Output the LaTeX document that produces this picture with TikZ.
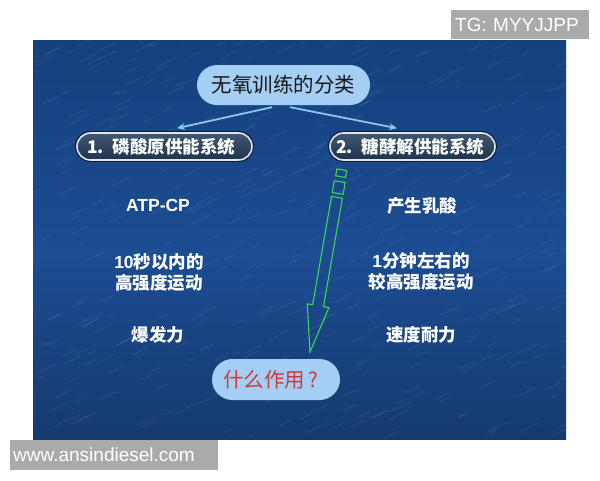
\documentclass[tikz,border=0pt]{standalone}
\usepackage{fontspec}
\setmainfont{Liberation Sans}
\newfontfamily\cjk{Noto Sans CJK SC}
\usetikzlibrary{arrows.meta,calc}
\definecolor{bgA}{RGB}{5,34,62}
\definecolor{bgB}{RGB}{20,62,122}
\definecolor{bgC}{RGB}{28,76,146}
\definecolor{bgD}{RGB}{20,56,106}
\definecolor{bgE}{RGB}{9,34,64}
\definecolor{pillblue}{RGB}{164,206,244}
\definecolor{boxtop}{RGB}{66,88,114}
\definecolor{boxbot}{RGB}{30,50,76}
\definecolor{boxline}{RGB}{222,232,242}
\definecolor{arrowblue}{RGB}{140,196,236}
\definecolor{arrowgreen}{RGB}{60,214,80}
\definecolor{askred}{RGB}{204,58,58}
\definecolor{wmgray}{RGB}{170,170,170}
\pgfdeclareverticalshading{slidebg}{100bp}{color(0bp)=(bgA); color(22bp)=(bgD); color(48bp)=(bgC); color(80bp)=(bgB); color(100bp)=(bgE)}
\tikzset{
  titlepill/.style={fill=pillblue, rounded corners=20pt, minimum width=173pt, minimum height=40pt, inner sep=0pt,
    font=\cjk\fontsize{20.5}{22}\selectfont, text=black!90},
  askpill/.style={fill=pillblue, rounded corners=20.5pt, minimum height=41pt, inner ysep=0pt, inner xsep=11pt,
    text width=106pt, align=left, font=\cjk\fontsize{20.5}{22}\selectfont, text=askred},
  sysbox/.style={rounded corners=13.5pt, draw=boxline, line width=1.6pt, top color=boxtop, bottom color=boxbot,
    minimum height=27pt, inner ysep=0pt, align=left, text=white,
    font=\cjk\bfseries\fontsize{17.5}{20}\selectfont,
    preaction={draw=black, line width=3.8pt, draw opacity=0.6}},
  coltext/.style={text=white, font=\bfseries\fontsize{17.5}{21}\selectfont, align=center, inner sep=0pt},
  linkarrow/.style={draw=arrowblue, line width=1.8pt, -{Stealth[length=8pt,width=7pt]}},
  wmbox/.style={fill=wmgray, text=white, font=\fontsize{19}{22}\selectfont, inner ysep=0pt, align=left},
  hollowarrow/.style={draw=arrowgreen, line width=1.1pt, line join=miter},
  grain/.style={white, draw opacity=0.06, line width=1.3pt, line cap=round},
}
\begin{document}
\begin{tikzpicture}[x=1pt,y=-1pt]
\useasboundingbox (0,0) rectangle (600,480);
\fill[white] (0,0) rectangle (600,480);
% slide background
\shade[shading=slidebg] (33,40) rectangle (566,439);
\begin{scope}
  \clip (33,40) rectangle (566,439);
  \pgfmathsetseed{42}
  \foreach \i in {1,...,420}{
    \pgfmathsetmacro\px{33+533*rnd}
    \pgfmathsetmacro\py{40+399*rnd}
    \pgfmathsetmacro\len{5+14*rnd}
    \draw[grain] (\px,\py) -- ++(\len,-0.5*\len);
  }
\end{scope}
% watermarks
\node[wmbox, anchor=north west, minimum height=29pt, text width=130pt, inner xsep=4pt] (tg) at (451,10) {TG: MYYJJPP};
\node[wmbox, anchor=north west, minimum height=30pt, text width=202pt, inner xsep=3pt] (web) at (10,440) {www.ansindiesel.com};
% title
\node[titlepill] (title) at (283.5,85) {无氧训练的分类};
% system boxes
\node[sysbox, text width=155pt, inner xsep=10pt] (lbox) at (164.5,146.5) {1. 磷酸原供能系统};
\node[sysbox, text width=153pt, inner xsep=6pt] (rbox) at (412.5,146.5) {2. 糖酵解供能系统};
% link arrows
\draw[linkarrow] ([xshift=-11.5pt,yshift=-2pt]title.south) -- ([xshift=12.5pt,yshift=4pt]lbox.north);
\draw[linkarrow] ([xshift=6.5pt,yshift=-2pt]title.south) -- ([xshift=-15.5pt,yshift=4pt]rbox.north);
% column texts
\node[coltext] (atp) at (158,205) {ATP-CP};
\node[coltext] (ten) at (159,272) {10{\cjk 秒以内的}\\{\cjk 高强度运动}};
\node[coltext] (bao) at (158,335) {\cjk 爆发力};
\node[coltext] (lac) at (422,206) {\cjk 产生乳酸};
\node[coltext] (one) at (421,271) {1{\cjk 分钟左右的}\\{\cjk 较高强度运动}};
\node[coltext] (sud) at (421,335) {\cjk 速度耐力};
% question pill
\node[askpill] (ask) at (276,379.5) {什么作用\,?};
% green hollow arrow
\begin{scope}[shift={(310,352)}, rotate=-9.9]
  \draw[hollowarrow] (0,0) -- (-11,-47) -- (-5.5,-47) -- (-5.5,-157) -- (5.5,-157) -- (5.5,-47) -- (11,-47) -- cycle;
  \draw[hollowarrow] (-5.5,-161) rectangle (5.5,-173);
  \draw[hollowarrow] (-5,-178) rectangle (5,-185);
\end{scope}
\end{tikzpicture}
\end{document}
